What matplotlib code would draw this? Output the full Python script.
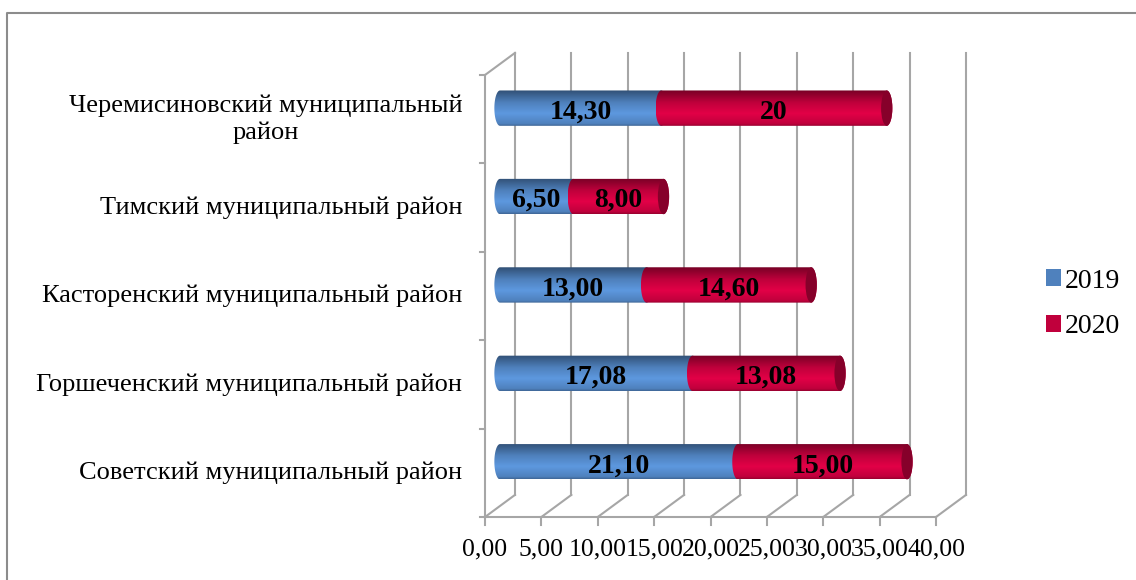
import numpy as np
import matplotlib.pyplot as plt
from matplotlib.patches import Patch, PathPatch, Ellipse
from matplotlib.path import Path
from matplotlib.lines import Line2D
from matplotlib.colors import to_rgb

plt.rcParams['font.family'] = ['Liberation Serif', 'DejaVu Serif']

# data (bottom to top)
districts = ["Советский муниципальный район",
             "Горшеченский муниципальный район",
             "Касторенский муниципальный район",
             "Тимский муниципальный район",
             "Черемисиновский муниципальный\nрайон"]
vals2019 = [21.10, 17.08, 13.00, 6.50, 14.30]
vals2020 = [15.00, 13.08, 14.60, 8.00, 20.00]
lab2019 = ["21,10", "17,08", "13,00", "6,50", "14,30"]
lab2020 = ["15,00", "13,08", "14,60", "8,00", "20"]
xticks = [0, 5, 10, 15, 20, 25, 30, 35, 40]
xticklabels = ["0,00", "5,00", "10,00", "15,00", "20,00", "25,00", "30,00", "35,00", "40,00"]

blue = "#4f81bd"
red = "#c0003c"
grid_c = "#a6a6a6"

W, H = 1136, 580
fig = plt.figure(figsize=(W / 100, H / 100), dpi=100)
ax = fig.add_axes([485 / W, (H - 517) / H, (936 - 485) / W, (517 - 75) / H])
ax.set_xlim(0, 40)
ax.set_ylim(0, 5)
ax.axis('off')

# depth offset (data units)
dx, dy = 2.66, 0.25

# 3d walls
for v, lab in zip(xticks, xticklabels):
    ax.plot([v + dx, v + dx], [dy, 5 + dy], color=grid_c, lw=1.5, clip_on=False, zorder=1)
    ax.plot([v, v + dx], [0, dy], color=grid_c, lw=1.5, clip_on=False, zorder=1)
    ax.plot([v, v], [0, -0.09], color=grid_c, lw=1.5, clip_on=False, zorder=1)
    ax.text(v, -0.37, lab, ha='center', va='center', fontsize=18.5)
ax.plot([0, 40], [0, 0], color=grid_c, lw=1.5, clip_on=False, zorder=1)
ax.plot([0, 0], [0, 5], color=grid_c, lw=1.5, clip_on=False, zorder=1)
ax.plot([0, dx], [5, 5 + dy], color=grid_c, lw=1.5, clip_on=False, zorder=1)
for k in range(6):
    ax.plot([-0.45, 0], [k, k], color=grid_c, lw=1.5, clip_on=False, zorder=1)


def shade(c, t):
    c = np.array(to_rgb(c))
    stops_t = [0.0, 0.06, 0.35, 0.65, 1.0]
    stops_f = [0.8, 1.0, 1.18, 1.0, 0.62]
    f = np.interp(t, stops_t, stops_f)
    out = c[None, :] * f[:, None]
    return np.clip(out, 0, 1)


def cylinder(x0, x1, yc, h, a, color, cap):
    # body with rounded left end, gradient via clipped image
    n = 30
    th = np.linspace(np.pi / 2, 3 * np.pi / 2, n)
    left = np.column_stack([x0 + a * np.cos(th), yc + h / 2 * np.sin(th)])
    th2 = np.linspace(-np.pi / 2, np.pi / 2, n)
    right = np.column_stack([x1 + a * np.cos(th2), yc + h / 2 * np.sin(th2)])
    verts = np.vstack([left, right, left[:1]])
    patch = PathPatch(Path(verts), facecolor='none', edgecolor='none', zorder=3)
    ax.add_patch(patch)
    t = np.linspace(0, 1, 64)
    img = shade(color, t)[:, None, :]
    im = ax.imshow(img, extent=[x0 - a, x1 + a, yc + h / 2, yc - h / 2],
                   aspect='auto', zorder=3, interpolation='bilinear', origin='upper')
    im.set_clip_path(patch)
    if cap:
        cc = np.array(to_rgb(color)) * 0.7
        ax.add_patch(Ellipse((x1, yc), 2 * a, h, facecolor=cc, edgecolor='none', zorder=4))


bar_h = 0.40
a = 0.5
for i in range(5):
    yc = i + 0.5 + dy / 2
    x0 = dx / 2
    xb = x0 + vals2019[i]
    xr = xb + vals2020[i]
    cylinder(x0, xb, yc, bar_h, a, blue, False)
    cylinder(xb, xr, yc, bar_h, a, red, True)
    ax.text((x0 + xb) / 2, yc - 0.045, lab2019[i], ha='center', va='center',
            fontsize=20, fontweight='bold', zorder=6)
    ax.text((xb + xr) / 2, yc - 0.045, lab2020[i], ha='center', va='center',
            fontsize=20, fontweight='bold', zorder=6)
    ax.text(-2.0, i + 0.5, districts[i], ha='right', va='center', fontsize=19,
            multialignment='center', linespacing=1.25)

ax.set_xlim(0, 40)
ax.set_ylim(0, 5)

handles = [Patch(facecolor=blue, label='2019'), Patch(facecolor=red, label='2020')]
fig.legend(handles=handles, loc='center left', bbox_to_anchor=(1040 / W, 1 - 304 / H),
           frameon=False, fontsize=20, handlelength=0.55, handleheight=0.55,
           handletextpad=0.15, labelspacing=0.75, borderaxespad=0, borderpad=0.2)

# outer frame (top and left edges visible)
fig.add_artist(Line2D([7 / W, 7 / W, 1], [0, 1 - 13 / H, 1 - 13 / H],
                      color='#8c8c8c', lw=1.5, transform=fig.transFigure))

fig.savefig("out.png", dpi=100)
